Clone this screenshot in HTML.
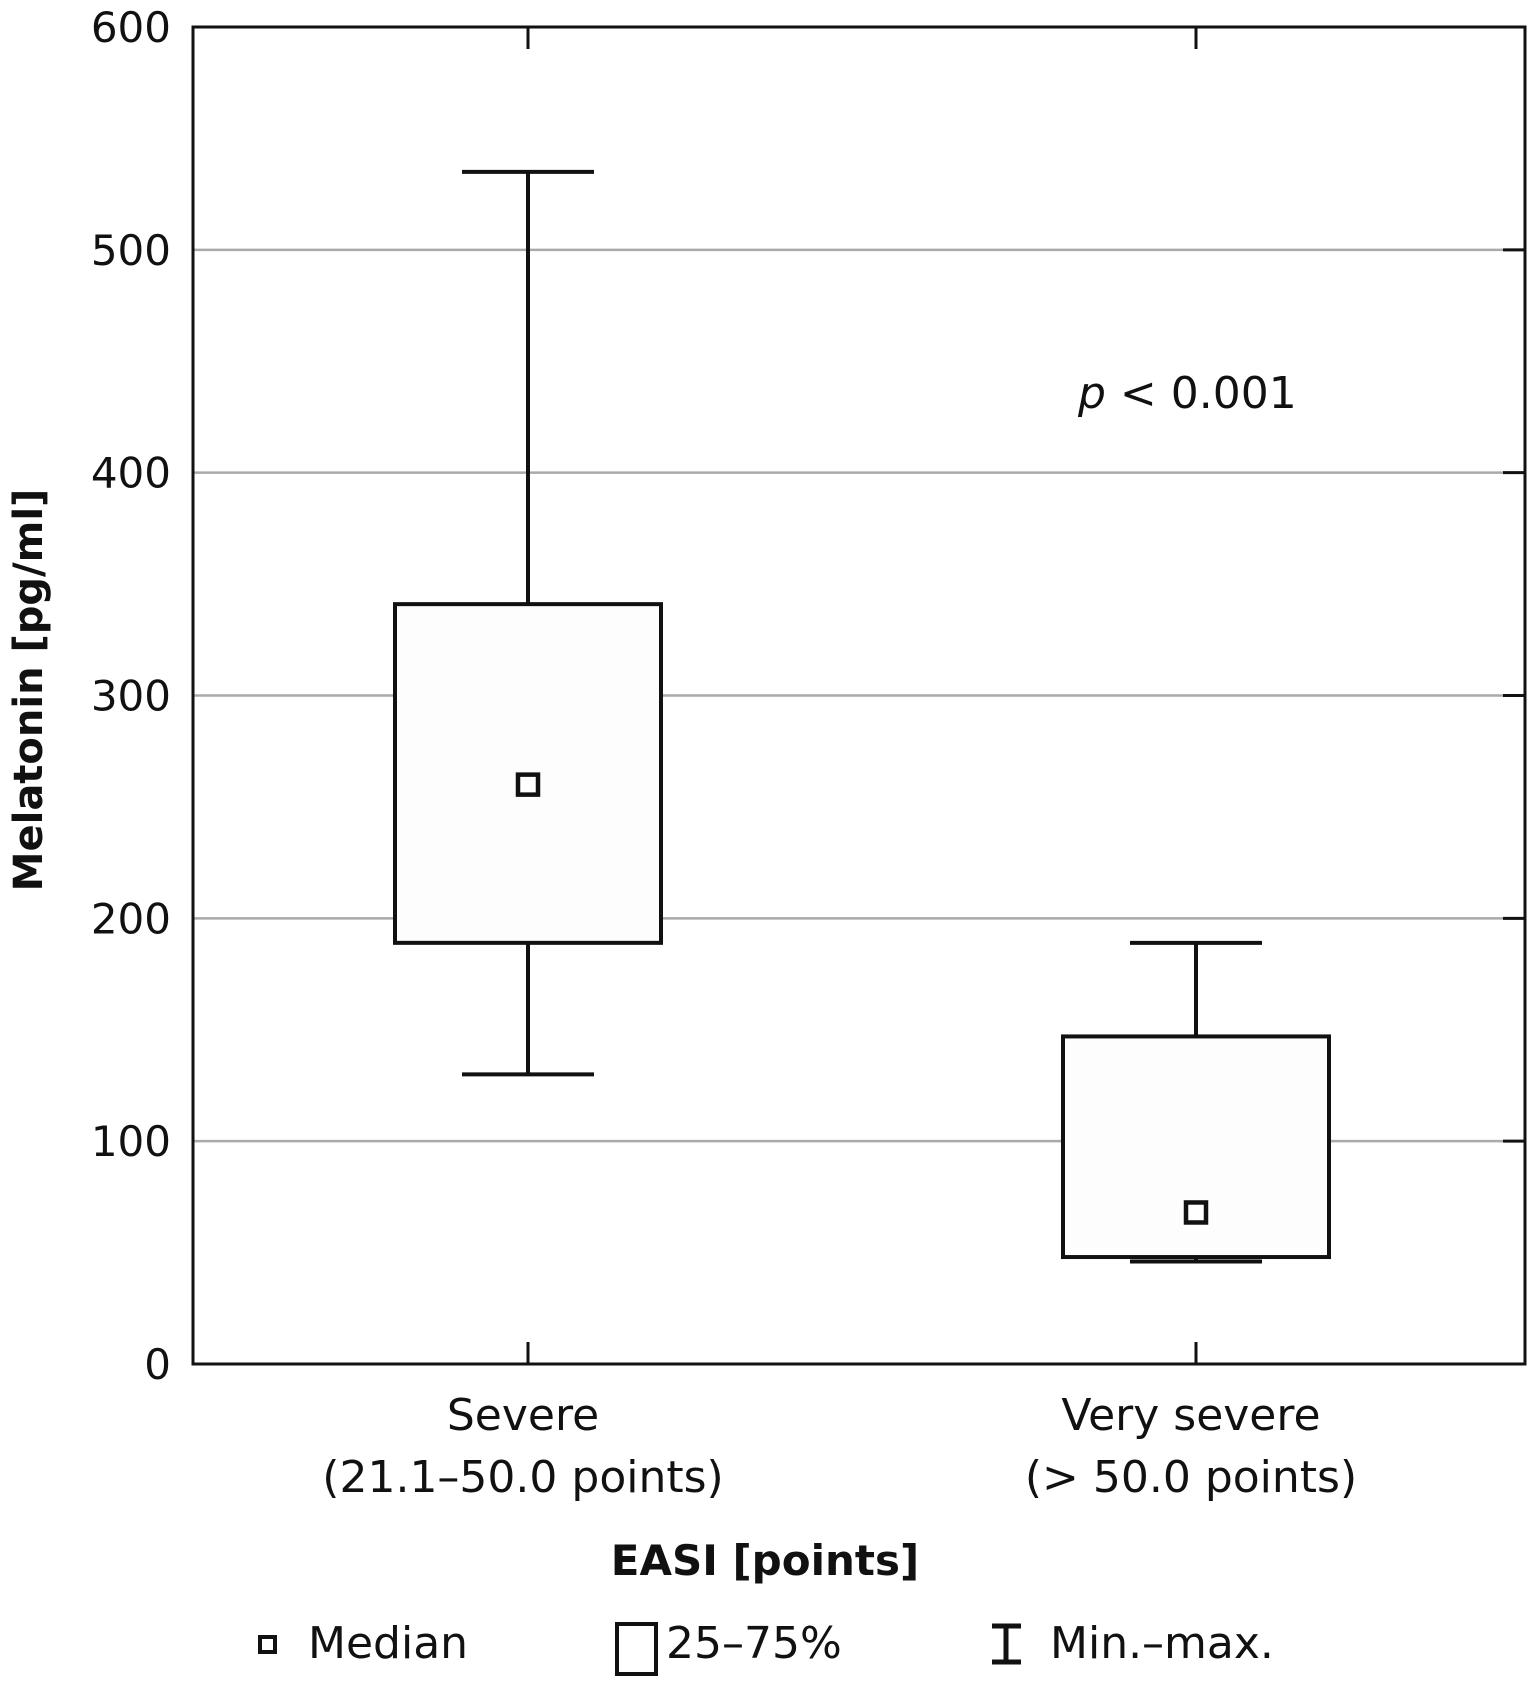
<!DOCTYPE html>
<html><head><meta charset="utf-8"><style>
body{margin:0;background:#fff;}
svg text{font-family:"DejaVu Sans","Liberation Sans",sans-serif;fill:#111;}
</style></head><body>
<svg id="chart" width="1530" height="1678" viewBox="0 0 1530 1678" xmlns="http://www.w3.org/2000/svg"></svg>
<script>
const categories=["Severe","Very severe"];
const subLabels=["(21.1–50.0 points)","(> 50.0 points)"];
const minVals=[130,46];
const q1Vals=[189,48];
const medianVals=[260,68];
const q3Vals=[341,147];
const maxVals=[535,189];
const yTicks=[0,100,200,300,400,500,600];

const NS="http://www.w3.org/2000/svg";
const svg=document.getElementById('chart');
const L=193,R=1525,T=27,B=1364;
const centers=[528,1196];
const y=v=>B-(v/600)*(B-T);
const xc=i=>centers[i];
function el(tag,attrs,txt){const e=document.createElementNS(NS,tag);for(const k in attrs)e.setAttribute(k,attrs[k]);if(txt!==undefined)e.textContent=txt;svg.appendChild(e);return e;}

yTicks.forEach(t=>{
  if(t>0&&t<600){
    const g=el('line',{x1:L,x2:R,y1:y(t),y2:y(t),stroke:'#aaa','stroke-width':2.5});
    
    
    const tk=el('line',{x1:R-22,x2:R,y1:y(t),y2:y(t),stroke:'#111','stroke-width':3});
    
    
  }
  const lb=el('text',{x:171,y:y(t)+15,'text-anchor':'end','font-size':42},String(t));
  
  
});
const frame=el('rect',{x:L,y:T,width:R-L,height:B-T,fill:'none',stroke:'#111','stroke-width':3});



categories.forEach((c,i)=>{
  const x=xc(i);
  el('line',{x1:x,x2:x,y1:T,y2:T+22,stroke:'#111','stroke-width':3});
  el('line',{x1:x,x2:x,y1:B,y2:B-22,stroke:'#111','stroke-width':3});
  const w=el('line',{x1:x,x2:x,y1:y(maxVals[i]),y2:y(minVals[i]),stroke:'#111','stroke-width':4});
  
  
  [maxVals[i],minVals[i]].forEach(v=>{
    const cap=el('line',{x1:x-66,x2:x+66,y1:y(v),y2:y(v),stroke:'#111','stroke-width':4});
    
    
  });
  const b=el('rect',{x:x-133,y:y(q3Vals[i]),width:266,height:y(q1Vals[i])-y(q3Vals[i]),fill:'#fdfdfd',stroke:'#111','stroke-width':4});
  
  
  const m=el('rect',{x:x-10,y:y(medianVals[i])-10,width:20,height:20,fill:'#fff',stroke:'#111','stroke-width':4.5});
  
  
  const l1=el('text',{x:x-5,y:1430,'text-anchor':'middle','font-size':44},c);
  
  
  const l2=el('text',{x:x-5,y:1492,'text-anchor':'middle','font-size':44},subLabels[i]);
  
  
});
</script>
<svg style="position:absolute;left:0;top:0" width="1530" height="1678" xmlns="http://www.w3.org/2000/svg">
<text x="1078" y="408" font-size="44" font-family="DejaVu Sans, Liberation Sans, sans-serif"><tspan font-style="italic">p</tspan> &lt; 0.001</text>
<text transform="translate(42,690) rotate(-90)" text-anchor="middle" font-size="40" font-weight="bold" font-family="DejaVu Sans, Liberation Sans, sans-serif">Melatonin [pg/ml]</text>
<text x="765" y="1575" text-anchor="middle" font-size="42" font-weight="bold" font-family="DejaVu Sans, Liberation Sans, sans-serif">EASI [points]</text>
<g>
<rect x="260" y="1637" width="15" height="15" fill="none" stroke="#111" stroke-width="4"/>
<text x="308" y="1658" font-size="44" font-family="DejaVu Sans, Liberation Sans, sans-serif">Median</text>
<rect x="617" y="1624" width="39" height="50" fill="#fff" stroke="#111" stroke-width="4"/>
<text x="666" y="1658" font-size="44" font-family="DejaVu Sans, Liberation Sans, sans-serif">25–75%</text>
<path d="M992 1626 H1021 M1006 1626 V1662 M992 1662 H1021" stroke="#111" stroke-width="5" fill="none"/>
<text x="1050" y="1658" font-size="44" font-family="DejaVu Sans, Liberation Sans, sans-serif">Min.–max.</text>
</g>
</svg>
</body></html>
